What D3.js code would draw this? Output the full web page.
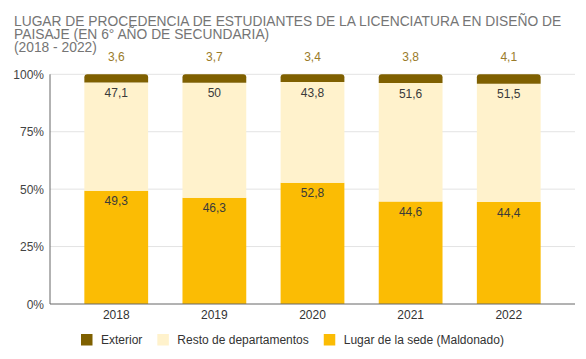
<!DOCTYPE html>
<html><head><meta charset="utf-8">
<script src="https://cdn.jsdelivr.net/npm/d3@7"></script>
<style>body{margin:0;background:#fff}svg{display:block;font-family:Arial,"Liberation Sans",sans-serif}</style>
</head><body><svg id="c" width="586" height="359"></svg>
<script>
const years = ["2018","2019","2020","2021","2022"];
const sede = [49.3,46.3,52.8,44.6,44.4];
const resto = [47.1,50,43.8,51.6,51.5];
const exterior = [3.6,3.7,3.4,3.8,4.1];
const yTicks = [0,25,50,75,100];
const titleLines = ["LUGAR DE PROCEDENCIA DE ESTUDIANTES DE LA LICENCIATURA EN DISEÑO DE","PAISAJE (EN 6° AÑO DE SECUNDARIA)","(2018 - 2022)"];
const seriesNames = ["Exterior","Resto de departamentos","Lugar de la sede (Maldonado)"];
const colors = {"Exterior":"#7f6000","Resto de departamentos":"#fff2cc","Lugar de la sede (Maldonado)":"#fbbc04"};

const svg = d3.select("#c");
const L=50,R=575,T=74.3,B=304;
const x = d3.scaleBand().domain(years).range([L,R]).padding(0.35);
const y = d3.scaleLinear().domain([0,100]).range([B,T]);

// title
svg.append("g").selectAll("text").data(titleLines).join("text")
  .attr("x",14).attr("y",(d,i)=>26+i*13.2).attr("fill","#757575").attr("font-size",13.8).text(d=>d);

// gridlines
svg.append("g").selectAll("line").data(yTicks.filter(t=>t>0)).join("line")
  .attr("x1",L).attr("x2",R).attr("y1",d=>y(d)).attr("y2",d=>y(d)).attr("stroke","#e3e3e3").attr("stroke-width",1);

// y axis labels
svg.append("g").selectAll("text").data(yTicks).join("text")
  .attr("x",44).attr("y",d=>y(d)+4.5).attr("text-anchor","end").attr("font-size",12).attr("fill","#444").text(d=>d+"%");

const rows = years.map((yr,i)=>({year:yr,sede:sede[i],resto:resto[i],exterior:exterior[i]}));
const stack = d3.stack().keys(["sede","resto","exterior"])(rows);
const keyName = {sede:seriesNames[2],resto:seriesNames[1],exterior:seriesNames[0]};

function roundTopPath(x0,y0,w,h,r){
  return `M${x0},${y0+h}V${y0+r}Q${x0},${y0} ${x0+r},${y0}H${x0+w-r}Q${x0+w},${y0} ${x0+w},${y0+r}V${y0+h}Z`;
}
stack.forEach(s=>{
  const g = svg.append("g");
  g.selectAll("path").data(s).join("path")
    .attr("d",d=>{
      const x0=x(d.data.year), w=x.bandwidth(), y0=y(d[1]), h=y(d[0])-y(d[1]);
      return s.key==="exterior" ? roundTopPath(x0,y0,w,h,3) : `M${x0},${y0}h${w}v${h}h${-w}Z`;
    })
    .attr("fill",colors[keyName[s.key]]);
  if(s.key==="exterior"){
    g.selectAll("text").data(s).join("text")
      .attr("x",d=>x(d.data.year)+x.bandwidth()/2).attr("y",d=>y(d[1])-13.5)
      .attr("text-anchor","middle").attr("font-size",12).attr("fill","#9a7b2a")
      .text(d=>String(d.data.exterior).replace(".",","));
  } else {
    g.selectAll("text").data(s).join("text")
      .attr("x",d=>x(d.data.year)+x.bandwidth()/2).attr("y",d=>y(d[1])+14.5)
      .attr("text-anchor","middle").attr("font-size",12).attr("fill","#3a3a3a")
      .text(d=>String(d.data[s.key]).replace(".",","));
  }
});

// axes lines
svg.append("line").attr("x1",L).attr("x2",L).attr("y1",T).attr("y2",B).attr("stroke","#666").attr("stroke-width",1);
svg.append("line").attr("x1",L).attr("x2",R).attr("y1",B).attr("y2",B).attr("stroke","#666").attr("stroke-width",1);

// x labels
const xa = svg.append("g").attr("transform",`translate(0,${B})`).call(d3.axisBottom(x).tickSize(0).tickPadding(0));
xa.select(".domain").remove();
xa.selectAll("text").attr("font-size",12).attr("fill","#333").attr("font-family","Arial, 'Liberation Sans', sans-serif").attr("dy",null).attr("y",14.5);

// legend
const leg = svg.append("g");
let lx = 81;
seriesNames.forEach(n=>{
  leg.append("rect").attr("x",lx).attr("y",334).attr("width",11.5).attr("height",11.5).attr("fill",colors[n]);
  const t = leg.append("text").attr("x",lx+20).attr("y",344).attr("font-size",12).attr("fill","#333").text(n);
  lx += 20 + t.node().getComputedTextLength() + 15;
});
</script></body></html>
